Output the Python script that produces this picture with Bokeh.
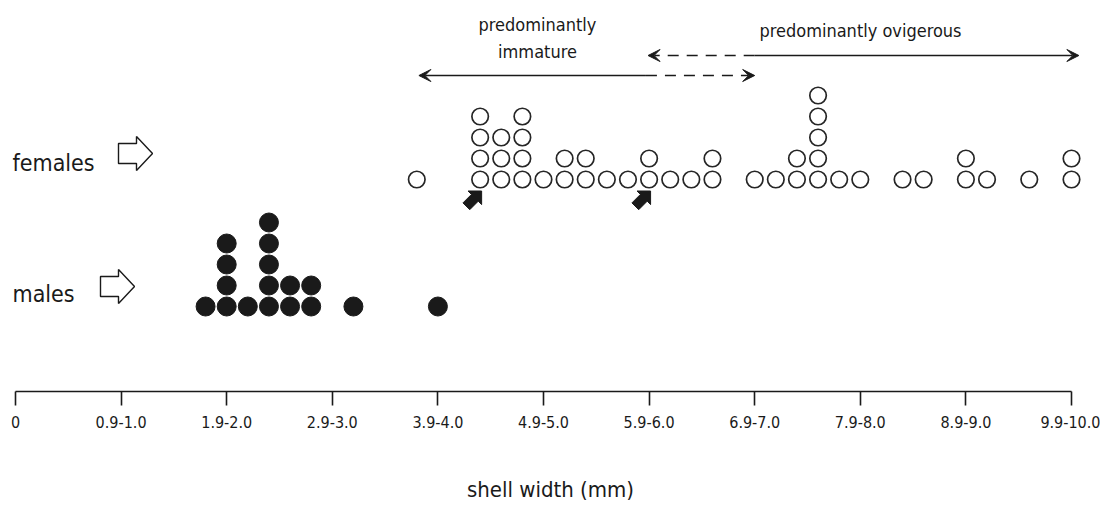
import numpy as np
from bokeh.plotting import figure
from bokeh.models import FixedTicker, Arrow, VeeHead, Range1d
from bokeh.core.properties import value
from bokeh.embed import file_html
from bokeh.resources import INLINE

# ---- data ----
tick_values = [0, 1, 2, 3, 4, 5, 6, 7, 8, 9, 10]
tick_labels = ["0", "0.9-1.0", "1.9-2.0", "2.9-3.0", "3.9-4.0", "4.9-5.0",
               "5.9-6.0", "6.9-7.0", "7.9-8.0", "8.9-9.0", "9.9-10.0"]
x_title = "shell width (mm)"

male_width = [1.8, 2.0, 2.2, 2.4, 2.6, 2.8, 3.2, 4.0]
male_count = [1, 4, 1, 5, 2, 2, 1, 1]

female_width = [3.8, 4.4, 4.6, 4.8, 5.0, 5.2, 5.4, 5.6, 5.8, 6.0, 6.2, 6.4, 6.6,
                7.0, 7.2, 7.4, 7.6, 7.8, 8.0, 8.4, 8.6, 9.0, 9.2, 9.6, 10.0]
female_count = [1, 4, 3, 4, 1, 2, 2, 1, 1, 2, 1, 1, 2,
                1, 1, 2, 5, 1, 1, 1, 1, 2, 1, 1, 2]

arrowed_width = [4.4, 6.0]            # columns pointed at by the small black arrows
immature_range = [3.82, 5.97, 7.0]    # solid from..to, dashed to
ovigerous_range = [5.99, 7.0, 10.07]  # dashed from..to, solid to

# ---- layout ----
W, H = 1100, 506
PX = 105.6                       # pixels per mm on x
X0 = -15 / PX
AXIS_Y = 391
FEM_BASE, MALE_BASE, STEP = 212, 85, 21
INK = "#1a1a1a"
COND = "DejaVu Sans Condensed"


def stack(widths, counts, base):
    xs, ys = [], []
    for w, c in zip(widths, counts):
        for k in range(c):
            xs.append(w)
            ys.append(base + k * STEP)
    return xs, ys


p = figure(width=W, height=H, output_backend="svg", toolbar_location=None,
           x_range=Range1d(X0, X0 + W / PX), y_range=Range1d(0, AXIS_Y),
           y_axis_location=None, min_border_left=0, min_border_right=0,
           min_border_top=0, min_border_bottom=H - AXIS_Y)
p.outline_line_color = None
p.xgrid.visible = False
p.ygrid.visible = False
p.background_fill_color = "white"

ax = p.xaxis[0]
ax.ticker = FixedTicker(ticks=tick_values, minor_ticks=[])
ax.major_label_overrides = {v: l for v, l in zip(tick_values, tick_labels)}
ax.bounds = (0, 10)
ax.axis_line_width = 1.6
ax.axis_line_color = INK
ax.major_tick_line_width = 1.6
ax.major_tick_line_color = INK
ax.major_tick_in = 0
ax.major_tick_out = 14
ax.minor_tick_line_color = None
ax.major_label_standoff = 10
ax.major_label_text_font = COND
ax.major_label_text_font_size = "16px"
ax.major_label_text_color = INK
ax.axis_label = x_title
ax.axis_label_text_font = COND
ax.axis_label_text_font_size = "22px"
ax.axis_label_text_font_style = "normal"
ax.axis_label_text_color = INK
ax.axis_label_standoff = 46

# dots
mx, my = stack(male_width, male_count, MALE_BASE)
fx, fy = stack(female_width, female_count, FEM_BASE)
p.scatter(mx, my, marker="circle", size=19, fill_color=INK, line_color=INK)
p.scatter(fx, fy, marker="circle", size=16.5, fill_color="white",
          line_color="#262626", line_width=1.7)

# small black block arrows pointing (north-east) at columns
shape = 1.2 * np.array([[0, 10], [-8, 2], [-4, 2], [-4, -8], [4, -8], [4, 2], [8, 2]], float)
ang = -np.pi / 4
rot = np.array([[np.cos(ang), -np.sin(ang)], [np.sin(ang), np.cos(ang)]])
shape = shape @ rot.T
bx, by = [], []
for w in arrowed_width:
    bx.append(list(w + (shape[:, 0] - 7) / PX))
    by.append(list(FEM_BASE - 20 + shape[:, 1]))
p.patches(bx, by, fill_color=INK, line_color=INK)

# hollow block arrows next to the row labels
hollow = np.array([[0, 10], [18, 10], [18, 17], [34, 0], [18, -17], [18, -10], [0, -10]], float)
for left_px, cy in [(118, FEM_BASE + 26), (100, MALE_BASE + 20)]:
    xs = list((left_px - 15 + hollow[:, 0]) / PX)
    ys = list(cy + hollow[:, 1])
    p.patch(xs + [xs[0]], ys + [ys[0]], fill_color="white", line_color=INK, line_width=1.4)

# row labels
p.text(x=[-3 / PX, -3 / PX], y=[FEM_BASE + 17, MALE_BASE + 13], text=["females", "males"],
       text_font=value(COND), text_font_size="23px", text_color=INK,
       text_baseline="alphabetic", text_align="left")

# range arrows
def arrow(x0, x1, y, dash):
    p.add_layout(Arrow(end=VeeHead(size=12, fill_color=INK, line_color=INK, line_width=1),
                       x_start=x0, y_start=y, x_end=x1, y_end=y, line_color=INK,
                       line_width=1.4, line_dash=dash))

Y_IMM, Y_OVI = 316, 336
arrow(immature_range[1], immature_range[0], Y_IMM, "solid")
arrow(immature_range[1], immature_range[2], Y_IMM, "11 8")
arrow(ovigerous_range[1], ovigerous_range[0], Y_OVI, "11 8")
arrow(ovigerous_range[1], ovigerous_range[2], Y_OVI, "solid")

p.text(x=[(537 - 15) / PX, (537 - 15) / PX, (860 - 15) / PX], y=[367, 340, 361],
       text=["predominantly", "immature", "predominantly ovigerous"],
       text_font=value(COND), text_font_size="18px", text_color=INK,
       text_baseline="alphabetic", text_align="center")

open("out.html", "w").write(file_html(p, INLINE))
